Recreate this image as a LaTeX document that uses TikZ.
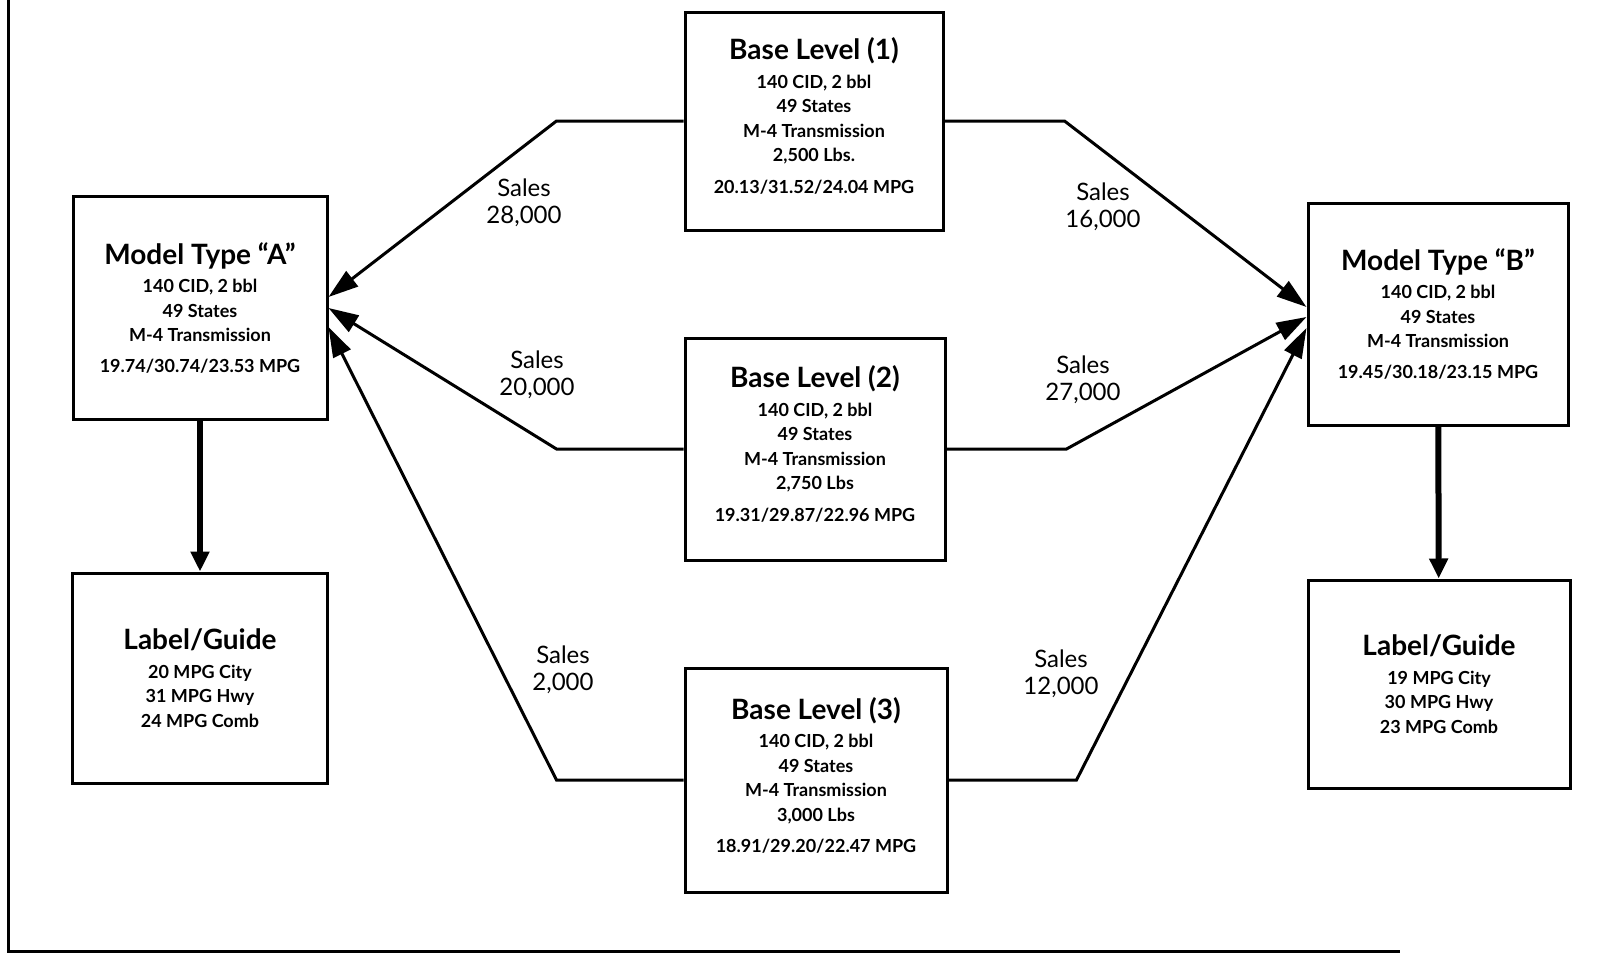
\documentclass[tikz,border=0pt]{standalone}
\usepackage{fontspec}
\setmainfont{Lato}
\usetikzlibrary{arrows.meta}
\begin{document}
\begin{tikzpicture}[x=1pt,y=-1pt]
        \tikzstyle{box}=[draw, line width=3pt, align=center, inner sep=0pt, font=\fontsize{18}{24.5}\selectfont\bfseries];
        \tikzstyle{flow}=[line width=3pt, -{Triangle[length=30pt,width=19pt]}];
        \tikzstyle{down}=[line width=6pt, -{Triangle[length=20pt,width=18pt]}];
        \tikzstyle{sales}=[align=center, inner sep=0pt, font=\fontsize{24}{27}\selectfont];
        \newcommand{\ttl}[1]{{\fontsize{28}{32}\selectfont #1}\\[4pt]}
        \useasboundingbox (0,0) rectangle (1620,956);
        \draw[line width=3pt] (8,0) -- (8,951) -- (1400,951);
        \node (base1) at (814,121) [box, minimum width=258pt, minimum height=218pt] {\ttl{Base Level (1)}140 CID, 2 bbl\\49 States\\M-4 Transmission\\2,500 Lbs.\\[7pt]20.13/31.52/24.04 MPG\\[-14pt]};
        \node (base2) at (815,449) [box, minimum width=260pt, minimum height=222pt] {\ttl{Base Level (2)}140 CID, 2 bbl\\49 States\\M-4 Transmission\\2,750 Lbs\\[7pt]19.31/29.87/22.96 MPG\\[-14pt]};
        \node (base3) at (816,780) [box, minimum width=262pt, minimum height=224pt] {\ttl{Base Level (3)}140 CID, 2 bbl\\49 States\\M-4 Transmission\\3,000 Lbs\\[7pt]18.91/29.20/22.47 MPG\\[-14pt]};
        \node (typeA) at (200,308) [box, minimum width=254pt, minimum height=223pt] {\ttl{Model Type “A”}140 CID, 2 bbl\\49 States\\M-4 Transmission\\[6pt]19.74/30.74/23.53 MPG};
        \node (typeB) at (1438,314) [box, minimum width=260pt, minimum height=222pt] {\ttl{Model Type “B”}140 CID, 2 bbl\\49 States\\M-4 Transmission\\[6pt]19.45/30.18/23.15 MPG};
        \node (guideA) at (200,678) [box, minimum width=255pt, minimum height=210pt] {\ttl{Label/Guide}20 MPG City\\31 MPG Hwy\\24 MPG Comb};
        \node (guideB) at (1439,684) [box, minimum width=262pt, minimum height=208pt] {\ttl{Label/Guide}19 MPG City\\30 MPG Hwy\\23 MPG Comb};
        % sales figures
        \node (salesA1) at (524,203) [sales] {Sales\\28,000};
        \node (salesA2) at (537,375) [sales] {Sales\\20,000};
        \node (salesA3) at (563,670) [sales] {Sales\\2,000};
        \node (salesB1) at (1103,207) [sales] {Sales\\16,000};
        \node (salesB2) at (1083,380) [sales] {Sales\\27,000};
        \node (salesB3) at (1061,674) [sales] {Sales\\12,000};
        % to model A
        \draw[flow] (base1.west) -- ++(-127,0) -- ([yshift=11pt]typeA.east);
        \draw[flow] (base2.west) -- ++(-127,0) -- (typeA.east);
        \draw[flow] (base3.west) -- ++(-127,0) -- ([yshift=-19pt]typeA.east);
        % to model B
        \draw[flow] (base1.east) -- ++(120,0) -- ([yshift=7pt]typeB.west);
        \draw[flow] (base2.east) -- ++(120,0) -- ([yshift=-3pt]typeB.west);
        \draw[flow] (base3.east) -- ++(128,0) -- ([yshift=-14pt]typeB.west);
        \draw[down] (typeA) -- (guideA);
        \draw[down] (typeB) -- (guideB);
    \end{tikzpicture}
\end{document}
